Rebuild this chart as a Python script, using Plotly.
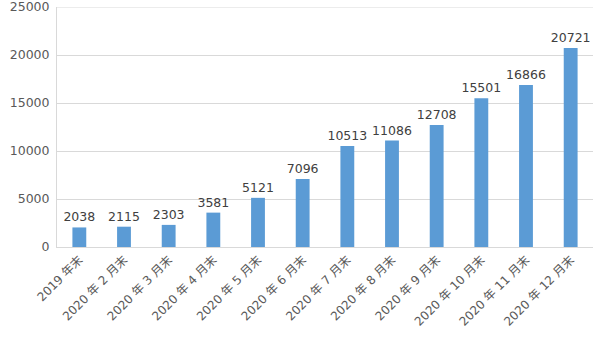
import plotly.graph_objects as go

# Month-end totals
categories = ["2019 年末", "2020 年 2 月末", "2020 年 3 月末", "2020 年 4 月末",
              "2020 年 5 月末", "2020 年 6 月末", "2020 年 7 月末", "2020 年 8 月末",
              "2020 年 9 月末", "2020 年 10 月末", "2020 年 11 月末", "2020 年 12 月末"]
values = [2038, 2115, 2303, 3581, 5121, 7096, 10513, 11086, 12708, 15501, 16866, 20721]
y_ticks = [0, 5000, 10000, 15000, 20000, 25000]

font_family = "DejaVu Sans, Noto Sans CJK SC, sans-serif"
text_color = "#404040"

fig = go.Figure(go.Bar(
    x=categories,
    y=values,
    marker_color="#5B9BD5",
    marker_line_width=0,
    width=0.31,
    text=[str(v) for v in values],
    textposition="outside",
    constraintext="none",
    cliponaxis=False,
    textfont=dict(size=12.5, color=text_color, family=font_family),
))

fig.update_layout(
    width=605, height=340,
    margin=dict(l=57, r=12, t=7, b=93, autoexpand=False),
    paper_bgcolor="white",
    plot_bgcolor="white",
    showlegend=False,
    font=dict(family=font_family, color="#595959", size=12),
    xaxis=dict(
        tickangle=-45,
        tickfont=dict(size=12, color="#595959"),
        showline=True, linecolor="#D9D9D9", linewidth=1,
        showgrid=False, ticks="", automargin=False,
    ),
    yaxis=dict(
        range=[0, 25000],
        tickvals=y_ticks,
        ticktext=[str(t) for t in y_ticks],
        tickfont=dict(size=12.5, color="#595959"),
        ticklabeloverflow="allow",
        showgrid=True, gridcolor="#D9D9D9", gridwidth=1,
        showline=True, linecolor="#D9D9D9", linewidth=1,
        zeroline=False, ticks="", ticklabelstandoff=4, automargin=False,
    ),
    shapes=[dict(type="line", xref="paper", yref="y", x0=0, x1=1, y0=y_ticks[-1], y1=y_ticks[-1],
                 line=dict(color="#D9D9D9", width=1))],
)

fig.write_html("out.html")
